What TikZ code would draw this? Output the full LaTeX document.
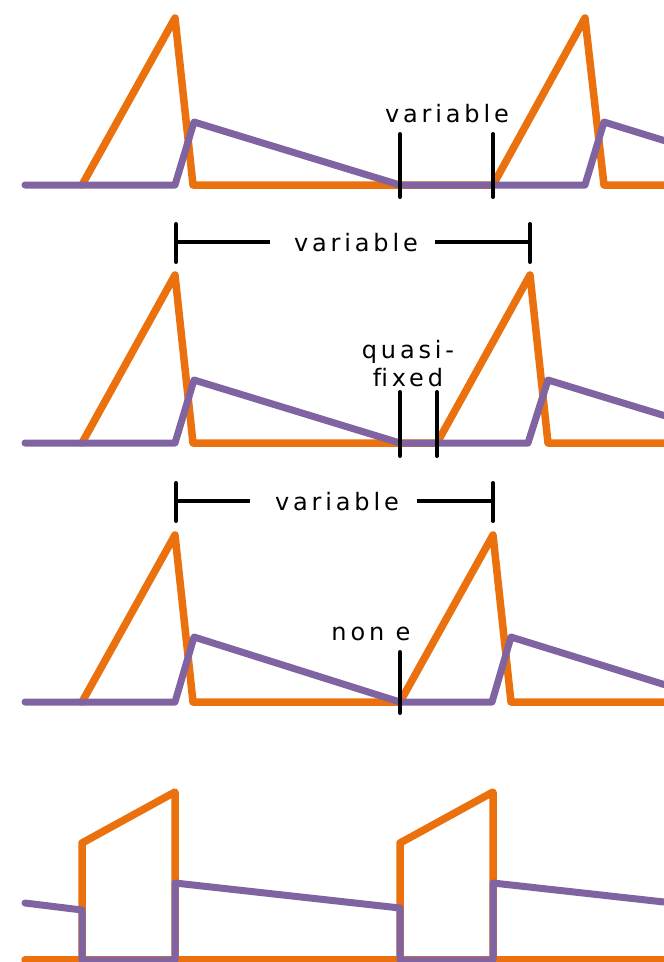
\documentclass[tikz,border=0pt]{standalone}
\usepackage{fontspec}
\setmainfont[LetterSpace=16]{DejaVu Sans}
\definecolor{sigor}{RGB}{234,113,14}
\definecolor{sigpu}{RGB}{128,100,162}
\begin{document}
\begin{tikzpicture}[x=1pt,y=-1pt,line join=round,line cap=round,
  orangeline/.style={draw=sigor,line width=7.5pt},
  purpleline/.style={draw=sigpu,line width=7pt},
  tickmark/.style={draw=black,line width=4pt,line cap=round},
  dimline/.style={draw=black,line width=3.5pt,line cap=butt},
  lbl/.style={font=\fontsize{24}{28}\selectfont,inner sep=0pt,anchor=base}]
\useasboundingbox (0,0) rectangle (664,962);

% ---------- row 1 ----------
\draw[orangeline] (82,185) -- (175,18) -- (193,185) -- (493,185) -- (585,18) -- (604,185) -- (664,185);
\draw[purpleline] (25,185) -- (175,185) -- (194,122) -- (400,185) -- (585,185) -- (604,122) -- (664,140.5);
\draw[tickmark] (400,134) -- (400,197);
\draw[tickmark] (493,134) -- (493,197);
\node[lbl] (v1) at (447,122) {variable};

% ---------- dimension 1 ----------
\coordinate (d1a) at (176,242);
\coordinate (d1b) at (530,242);
\node[lbl] (v2) at (356,251) {variable};
\draw[tickmark] (176,224) -- (176,262);
\draw[tickmark] (530,224) -- (530,262);
\draw[dimline] (d1a) -- (270,242);
\draw[dimline] (435,242) -- (d1b);

% ---------- row 2 ----------
\draw[orangeline] (82,443) -- (175,275) -- (193,443) -- (437,443) -- (530,275) -- (548,443) -- (664,443);
\draw[purpleline] (25,443) -- (175,443) -- (194,380) -- (400,443) -- (528,443) -- (548,380) -- (664,415.5);
\draw[tickmark] (400,392) -- (400,456);
\draw[tickmark] (437,392) -- (437,456);
\node[lbl] (q1) at (408,358) {quasi-};
\node[lbl] (q2) at (408,386) {f\kern0pt ixed};

% ---------- dimension 2 ----------
\coordinate (d2a) at (176,501);
\coordinate (d2b) at (493,501);
\node[lbl] (v3) at (337,510) {variable};
\draw[tickmark] (176,483) -- (176,521);
\draw[tickmark] (493,483) -- (493,521);
\draw[dimline] (d2a) -- (250,501);
\draw[dimline] (417,501) -- (d2b);

% ---------- row 3 ----------
\draw[orangeline] (82,702) -- (175,535) -- (193,702) -- (400,702) -- (493,535) -- (511,702) -- (664,702);
\draw[purpleline] (25,702) -- (175,702) -- (194,637) -- (400,702) -- (492,702) -- (511,637) -- (664,684.5);
\draw[tickmark] (400,652) -- (400,713);
\node[lbl] (n1) at (371,640) {non e};

% ---------- row 4 ----------
\draw[orangeline] (25,960) -- (664,960);
\draw[orangeline] (82,960) -- (82,843) -- (175,792) -- (175,960);
\draw[orangeline] (400,960) -- (400,843) -- (493,792) -- (493,960);
\draw[purpleline] (25,903) -- (82,910) -- (82,960) -- (175,960) -- (175,883) -- (400,908) -- (400,960) -- (493,960) -- (493,883) -- (664,902);
\end{tikzpicture}
\end{document}
